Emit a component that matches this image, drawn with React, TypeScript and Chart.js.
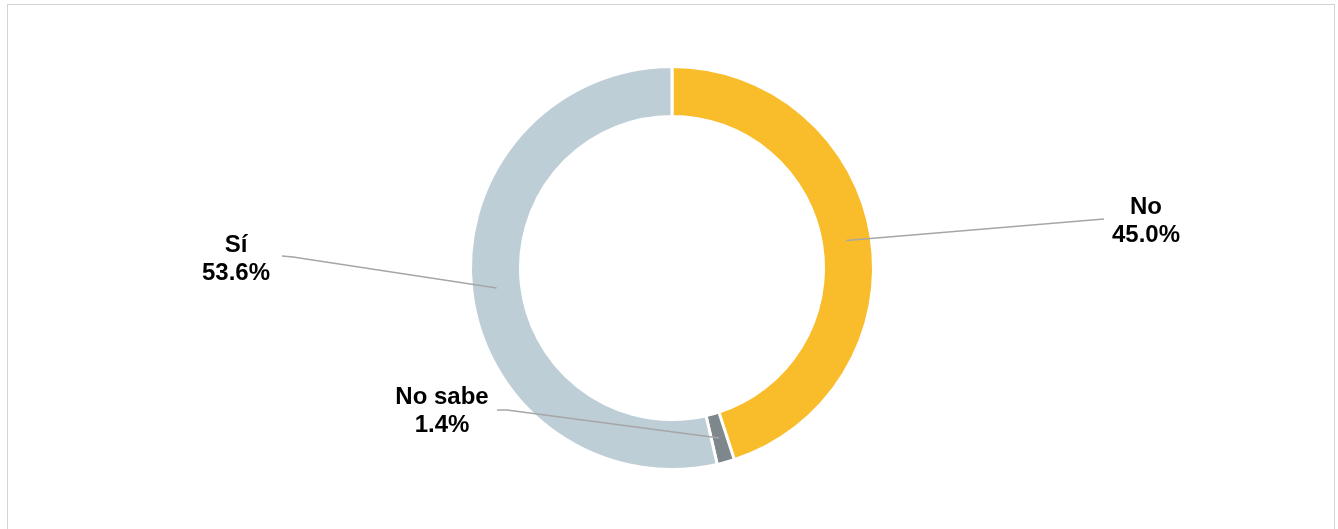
import { useEffect, useRef } from "react"
import { Chart, registerables, ArcElement } from "chart.js"

Chart.register(...registerables)

const labels = ["No", "No sabe", "Sí"]
const values = [45.0, 1.4, 53.6]
const colors = ["#F9BC2A", "#7D878C", "#BECED6"]

// where each label block sits (text centre) and where its leader line ends
const labelLayout = [
  { x: 1146, y: 221, lineX: [1104], lineY: [219] },
  { x: 442, y: 411, lineX: [497, 507], lineY: [410, 410] },
  { x: 236, y: 259, lineX: [282, 293], lineY: [256, 257] },
]

const leaderLabels = {
  id: "leaderLabels",
  afterDatasetsDraw(chart: Chart) {
    const { ctx } = chart
    const meta = chart.getDatasetMeta(0)
    ctx.save()
    meta.data.forEach((arc, i) => {
      const a = arc as ArcElement
      const p = a.tooltipPosition(false)
      const lay = labelLayout[i]
      // leader line
      ctx.beginPath()
      ctx.strokeStyle = "#A6A6A6"
      ctx.lineWidth = 1.5
      ctx.moveTo(p.x, p.y)
      for (let k = lay.lineX.length - 1; k >= 0; k--) {
        ctx.lineTo(lay.lineX[k], lay.lineY[k])
      }
      ctx.stroke()
      // text
      ctx.fillStyle = "#000"
      ctx.font = "bold 24px 'Liberation Sans', Arial, sans-serif"
      ctx.textAlign = "center"
      ctx.textBaseline = "middle"
      ctx.fillText(labels[i], lay.x, lay.y - 14)
      ctx.fillText(values[i].toFixed(1) + "%", lay.x, lay.y + 14)
    })
    ctx.restore()
  },
}

export default function App() {
  const chartRef = useRef<HTMLCanvasElement>(null)
  const chartInstance = useRef<Chart | null>(null)

  useEffect(() => {
    if (!chartRef.current) return
    if (chartInstance.current) {
      chartInstance.current.destroy()
    }

    chartInstance.current = new Chart(chartRef.current, {
      type: "doughnut",
      data: {
        labels,
        datasets: [
          {
            data: values,
            backgroundColor: colors,
            borderColor: "#FFFFFF",
            borderWidth: 3,
            hoverOffset: 0,
          },
        ],
      },
      options: {
        responsive: false,
        animation: false,
        radius: 201.5,
        cutout: "75.2%",
        layout: { padding: { left: 6, top: 7, right: 0, bottom: 0 } },
        plugins: {
          legend: { display: false },
          tooltip: { enabled: false },
        },
      },
      plugins: [leaderLabels],
    })

    return () => {
      if (chartInstance.current) {
        chartInstance.current.destroy()
        chartInstance.current = null
      }
    }
  }, [])

  return (
    <div
      style={{
        position: "fixed",
        left: 0,
        top: 0,
        width: 1338,
        height: 529,
        background: "#fff",
        overflow: "hidden",
      }}
    >
      <div
        style={{
          position: "absolute",
          left: 7,
          top: 4,
          width: 1328,
          height: 540,
          border: "1px solid #D4D4D4",
          boxSizing: "border-box",
        }}
      />
      <canvas
        ref={chartRef}
        width={1338}
        height={529}
        style={{ position: "absolute", left: 0, top: 0, width: 1338, height: 529 }}
      ></canvas>
    </div>
  )
}
